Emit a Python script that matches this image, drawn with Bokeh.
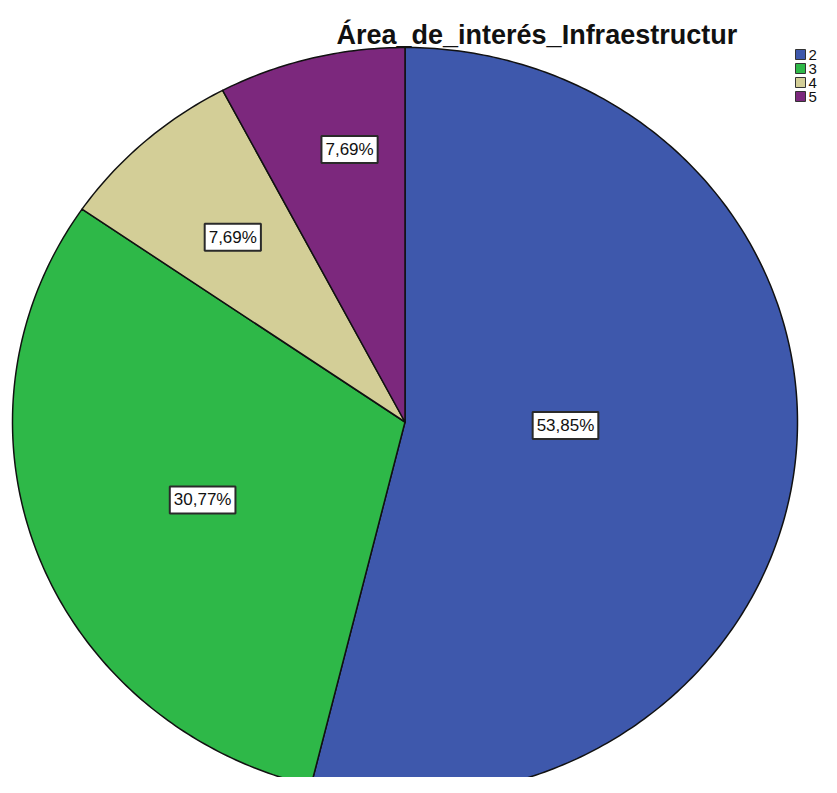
import numpy as np
from bokeh.plotting import figure
from bokeh.models import Range1d, Label, ColumnDataSource
from bokeh.embed import file_html
from bokeh.resources import INLINE
from bokeh.core.properties import value

# ---- data ----
title_text = "Área_de_interés_Infraestructur"
categories = ["2", "3", "4", "5"]
percentages = [53.85, 30.77, 7.69, 7.69]
colors = ["#3E58AC", "#2EB848", "#D3CE97", "#7C287D"]

# ---- layout / style ----
W, H = 821, 777
CX, CY = 404.5, -421.5          # pie centre (data units = px, y up)
RX, RY = 392.5, 374.5           # the SPSS pie is slightly elliptical
label_r = [0.409, 0.556, 0.660, 0.741]   # label distance (fraction of radius)
label_t = [0.471, 0.489, 0.495, 0.603]   # label position within its slice
FONT = "Liberation Sans"

p = figure(width=W, height=H, output_backend="svg", toolbar_location=None,
           x_range=Range1d(0, W), y_range=Range1d(-H, 0),
           x_axis_type=None, y_axis_type=None, min_border=0)
p.grid.visible = False
p.outline_line_color = None
p.background_fill_color = "white"
p.border_fill_color = "white"

frac = np.array(percentages) / np.sum(percentages)
ends = np.cumsum(frac) * 2 * np.pi      # clockwise from 12 o'clock
starts = ends - frac * 2 * np.pi

xs, ys = [], []
for s, e in zip(starts, ends):
    t = np.linspace(s, e, max(8, int(500 * (e - s) / (2 * np.pi))))
    xs.append(np.concatenate([[CX], CX + RX * np.sin(t), [CX]]))
    ys.append(np.concatenate([[CY], CY + RY * np.cos(t), [CY]]))

src = ColumnDataSource(dict(xs=xs, ys=ys, color=colors, cat=categories))
p.patches(xs="xs", ys="ys", fill_color="color", line_color="#111111",
          line_width=1.5, line_join="round", source=src)

for pct, s, e, rf, tf in zip(percentages, starts, ends, label_r, label_t):
    t = s + tf * (e - s)
    lx = CX + rf * RX * np.sin(t)
    ly = CY + rf * RY * np.cos(t)
    txt = f"{pct:.2f}%".replace(".", ",")
    p.add_layout(Label(x=lx, y=ly, text=txt, text_align="center",
                       text_baseline="middle", text_font=FONT,
                       text_font_size="17px", text_color="#111111",
                       background_fill_color="white",
                       border_line_color="#2a2a2a", border_line_width=2,
                       padding=4))

# title
p.add_layout(Label(x=336, y=-34, text=title_text, text_align="left",
                   text_baseline="alphabetic", text_font=FONT,
                   text_font_style="bold", text_font_size="27px",
                   text_color="#111111"))

# legend
LX, LY0, STEP = 800, -54, 14
for i, (cat, col) in enumerate(zip(categories, colors)):
    yy = LY0 - i * STEP
    p.rect(x=LX, y=yy, width=10, height=10, width_units="screen",
           height_units="screen", fill_color=col, line_color="#333333",
           line_width=1)
    p.text(x=LX + 8, y=yy, text=[cat], text_align="left",
           text_baseline="middle", text_font=value(FONT),
           text_font_size="15px", text_color="#111111")

open("out.html", "w").write(file_html(p, INLINE))
